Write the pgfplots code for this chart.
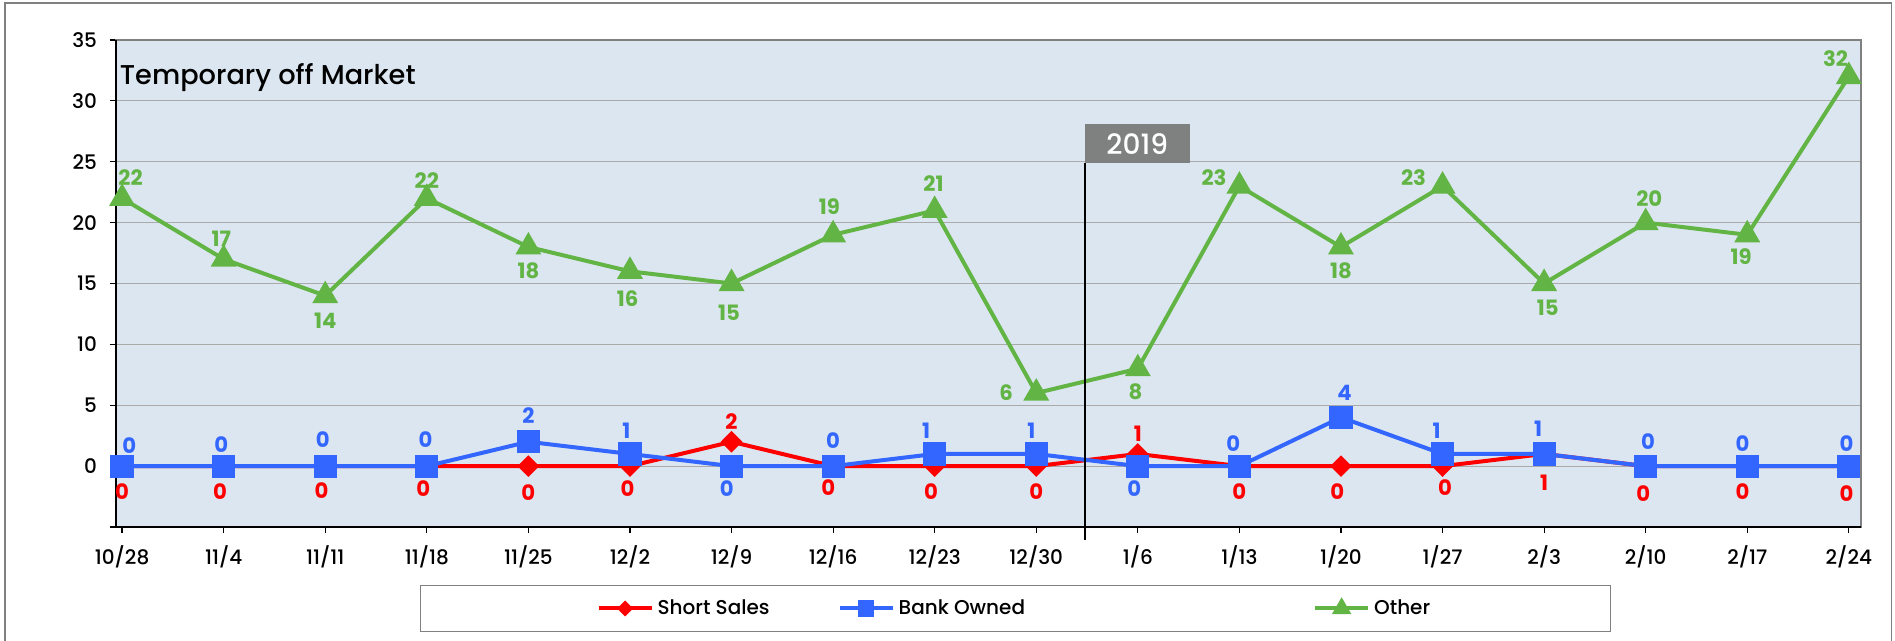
\documentclass[border=0pt]{standalone}
\usepackage{pgfplots}
\pgfplotsset{compat=1.18}
\usepackage{pgfplotstable}
\usepackage{fontspec}
\setmainfont{Poppins}
\newfontfamily\medfont{Poppins Medium}
\definecolor{ssred}{RGB}{255,0,0}
\definecolor{boblue}{RGB}{51,102,255}
\definecolor{otgreen}{RGB}{98,181,68}
\definecolor{bgblue}{RGB}{220,230,241}
\definecolor{gridgray}{RGB}{170,170,170}
\definecolor{framegray}{RGB}{128,128,128}
\definecolor{boxgray}{RGB}{127,129,128}

\pgfplotstableread{
x y lx ly
0 0 0 -21
1 0 -3 -21
2 0 -3 -20
3 0 -3 -19
4 0 0 -22
5 0 -2 -19
6 2 0 17
7 0 -4 -18
8 0 -3 -21
9 0 0 -21
10 1 0 17
11 0 0 -21
12 0 -3 -21
13 0 2 -18
14 1 0 -24
15 0 -2 -23
16 0 -4 -21
17 0 -2 -23
}\shortsales

\pgfplotstableread{
x y lx ly
0 0 6 17
1 0 -2 18
2 0 -2 22
3 0 -1 22
4 2 0 22
5 1 -3 19
6 0 -4 -19
7 0 0 21
8 1 -7 19
9 1 -4 19
10 0 -3 -19
11 0 -5 19
12 4 3 20
13 1 -5 19
14 1 -5 21
15 0 2 20
16 0 -4 19
17 0 -2 19
}\bankowned

\pgfplotstableread{
x y lx ly
0 22 7 17
1 17 -2 17
2 14 0 -21
3 22 0 15
4 18 0 -20
5 16 -2 -23
6 15 -2 -24
7 19 -3 23
8 21 -1 22
9 6 -25 0
10 8 -2 -19
11 23 -21 7
12 18 0 -20
13 23 -24 7
14 15 3 -20
15 20 3 20
16 19 -5 -18
17 32 -11 15
}\other

\begin{document}
\begin{tikzpicture}
\useasboundingbox (0,0) rectangle (947.5pt,-320.5pt);
\draw[framegray, line width=0.8pt] (2.5pt,-330pt) -- (2.5pt,-1.6pt) -- (945.8pt,-1.6pt) -- (945.8pt,-330pt);
\begin{axis}[
  at={(58pt,-263.5pt)}, anchor=south west,
  width=872.5pt, height=243.5pt, scale only axis,
  xmin=-0.06, xmax=17.12, ymin=-5, ymax=35,
  xtick={0,...,17},
  xticklabels={10/28,11/4,11/11,11/18,11/25,12/2,12/9,12/16,12/23,12/30,1/6,1/13,1/20,1/27,2/3,2/10,2/17,2/24},
  ytick={-5,0,5,10,15,20,25,30,35},
  yticklabels={,0,5,10,15,20,25,30,35},
  ymajorgrids, grid style={gridgray, line width=0.6pt},
  axis background/.style={fill=bgblue},
  axis line style={framegray, line width=1.3pt},
  tick align=outside, xtick pos=bottom, ytick pos=left, major tick length=3pt,
  tick style={black, line width=0.6pt},
  ticklabel style={font=\medfont\fontsize{10}{12}\selectfont},
  /pgf/number format/assume math mode=true,
  yticklabel style={xshift=-3pt},
  xticklabel style={yshift=-3pt},
  clip=false,
  legend columns=3,
  legend cell align=left,
  legend image code/.code={\draw[mark repeat=2,mark phase=2,#1] plot coordinates {(0pt,0pt) (13.25pt,0pt) (26.5pt,0pt)};},
  legend style={at={(axis description cs:0.1742,-0.119)}, anchor=north west,
    draw=framegray, line width=0.6pt, inner xsep=88pt, inner ysep=5pt,
    font=\medfont\fontsize{10}{12}\selectfont,
    /tikz/column 2/.style={column sep=32pt},
    /tikz/column 4/.style={column sep=142pt}},
]
\addlegendimage{ssred, line width=2pt, mark=diamond*, mark size=2.6pt, mark options={xscale=1.33}}
\addlegendentry{Short Sales}
\addlegendimage{boblue, line width=2pt, mark=square*, mark size=3.1pt}
\addlegendentry{Bank Owned}
\addlegendimage{otgreen, line width=2pt, mark=triangle*, mark size=3.6pt}
\addlegendentry{Other}
\addplot[forget plot, ssred, line width=2pt, mark=diamond*, mark size=4pt, mark options={xscale=1.33},
  nodes near coords,
  visualization depends on={\thisrow{lx}\as\lx},
  visualization depends on={\thisrow{ly}\as\ly},
  every node near coord/.append style={anchor=center, xshift=\lx*0.604pt, yshift=\ly*0.604pt, text=ssred, font=\bfseries\fontsize{10.6}{12}\selectfont}]
  table[x=x,y=y] {\shortsales};
\addplot[forget plot, boblue, line width=2pt, mark=square*, mark size=4.8pt,
  nodes near coords,
  visualization depends on={\thisrow{lx}\as\lx},
  visualization depends on={\thisrow{ly}\as\ly},
  every node near coord/.append style={anchor=center, xshift=\lx*0.604pt, yshift=\ly*0.604pt, text=boblue, font=\bfseries\fontsize{10.6}{12}\selectfont}]
  table[x=x,y=y] {\bankowned};
\addplot[forget plot, otgreen, line width=2pt, mark=triangle*, mark size=5.5pt,
  nodes near coords,
  visualization depends on={\thisrow{lx}\as\lx},
  visualization depends on={\thisrow{ly}\as\ly},
  every node near coord/.append style={anchor=center, xshift=\lx*0.604pt, yshift=\ly*0.604pt, text=otgreen, font=\bfseries\fontsize{10.6}{12}\selectfont}]
  table[x=x,y=y] {\other};
\draw[black, line width=0.9pt] (rel axis cs:0,1) -- (rel axis cs:0,0) -- (rel axis cs:1,0);
\draw[black, line width=0.8pt] (axis cs:9.48,24.9) -- (axis cs:9.48,-6.08);
\fill[boxgray] (axis cs:9.48,24.9) rectangle (axis cs:10.51,28.06);
\node[white, font=\medfont\fontsize{14}{16}\selectfont] at (axis cs:9.995,26.48) {2019};
\node[anchor=base west, inner sep=0pt, font=\medfont\fontsize{13.6}{15}\selectfont] at (axis description cs:0.002,0.908) {Temporary off Market};
\end{axis}
\end{tikzpicture}
\end{document}
